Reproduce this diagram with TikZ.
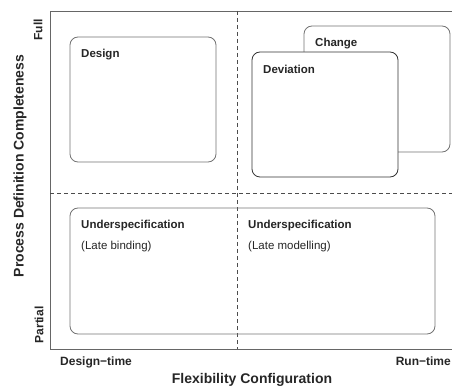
\documentclass[tikz,border=0pt]{standalone}
\usepackage{fontspec}
\setmainfont{Liberation Sans}
\begin{document}
\begin{tikzpicture}[x=1pt,y=-1pt,
  axis/.style={draw=black!60,line width=0.9pt},
  divider/.style={draw=black!70,dashed,dash pattern=on 4pt off 3pt,line width=0.8pt},
  box/.style={draw=black!55,line width=0.8pt,rounded corners=8pt,fill=white,inner sep=0pt},
  lbl/.style={anchor=base west,inner sep=0pt,font=\fontsize{11.5}{13}\selectfont\bfseries,text=black!85},
  sub/.style={anchor=base west,inner sep=0pt,font=\fontsize{11.5}{13}\selectfont,text=black!85},
  axlbl/.style={inner sep=0pt,font=\fontsize{12}{14}\selectfont\bfseries,text=black!85},
  axtitle/.style={inner sep=0pt,font=\fontsize{14}{16}\selectfont\bfseries,text=black!85}]
\useasboundingbox (0,0) rectangle (452,387);
% axes
\coordinate (tl) at (50,11);
\coordinate (tr) at (452,11);
\coordinate (bl) at (50,349);
\coordinate (br) at (452,349);
\coordinate (vt) at (237,11);
\coordinate (vb) at (237,349);
\coordinate (hl) at (50,193);
\coordinate (hr) at (452,193);
\draw[axis] (tr) -- (tl) -- (bl) -- (br);
\draw[divider] (vt) -- (vb);
\draw[divider] (hl) -- (hr);
% boxes
\path (70,37) coordinate (d1) (216,162) coordinate (d2);
\draw[box] (d1) rectangle (d2);
\node[lbl] (design) at (81,58) {Design};
\path (304,26) coordinate (c1) (450,152) coordinate (c2);
\draw[box] (c1) rectangle (c2);
\node[lbl] (change) at (315,47) {Change};
\path (252,52) coordinate (v1) (398,177) coordinate (v2);
\draw[box,draw=black!80] (v1) rectangle (v2);
\node[lbl] (deviation) at (263,74) {Deviation};
\path (70,208) coordinate (u1) (435,334) coordinate (u2);
\draw[box,fill=none] (u1) rectangle (u2);
\node[lbl] (us1) at (81,229) {Underspecification};
\node[sub] (lb) at (81,250) {(Late binding)};
\node[lbl] (us2) at (248,229) {Underspecification};
\node[sub] (lm) at (248,250) {(Late modelling)};
% axis labels
\node[axlbl,rotate=90] (full) at (38,30) {Full};
\node[axlbl,rotate=90] (partial) at (39,325) {Partial};
\node[axtitle,rotate=90] (ytitle) at (20,166) {Process Definition Completeness};
\node[axlbl,anchor=base west] (dt) at (60,365) {Design−time};
\node[axlbl,anchor=base east] (rt) at (451,365) {Run−time};
\node[axtitle,anchor=base] (xtitle) at (252,383) {Flexibility Configuration};
\end{tikzpicture}
\end{document}
